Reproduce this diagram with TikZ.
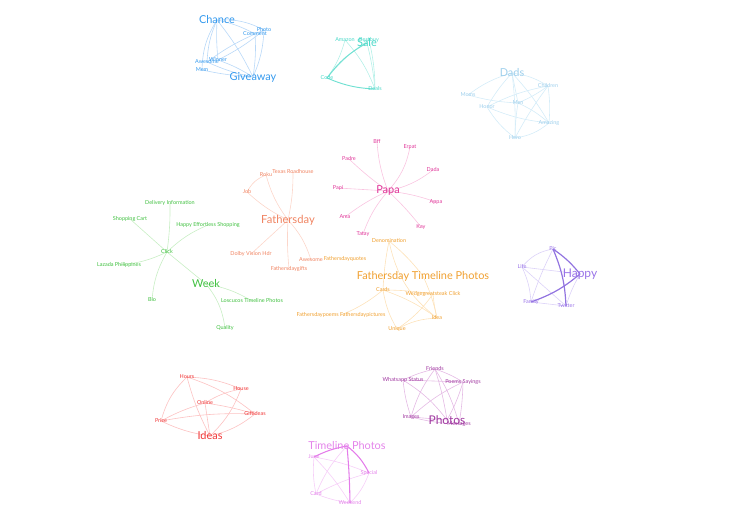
\documentclass[tikz,border=0pt]{standalone}
\usepackage{fontspec}
\setmainfont{Lato}
\usetikzlibrary{backgrounds}
\definecolor{chT}{HTML}{3399EE}\definecolor{chE}{HTML}{B8D8F8}
\definecolor{saT}{HTML}{48D8C8}\definecolor{saE}{HTML}{B4F0E8}\definecolor{saD}{HTML}{70E0D2}
\definecolor{daT}{HTML}{9ECFEC}\definecolor{daE}{HTML}{D4ECF8}
\definecolor{paT}{HTML}{E0389A}\definecolor{paE}{HTML}{F9C4E0}
\definecolor{faT}{HTML}{F08462}\definecolor{faE}{HTML}{FCD6CA}
\definecolor{weT}{HTML}{40C040}\definecolor{weE}{HTML}{C8EEC4}
\definecolor{ftT}{HTML}{F0A030}\definecolor{ftE}{HTML}{FDE2BA}
\definecolor{haT}{HTML}{9A74E8}\definecolor{haE}{HTML}{DCD2F8}\definecolor{haD}{HTML}{9274E0}
\definecolor{idT}{HTML}{F03838}\definecolor{idE}{HTML}{FCC2C2}
\definecolor{phT}{HTML}{A038A0}\definecolor{phE}{HTML}{E4BAE4}
\definecolor{tpT}{HTML}{E484EA}\definecolor{tpE}{HTML}{F6CEF8}\definecolor{tpD}{HTML}{E47CEA}
\tikzset{
  lab/.style={font=\fontsize{4.1}{5}\selectfont, inner sep=0pt},
  big/.style={font=\fontsize{8.2}{10}\selectfont, inner sep=0pt},
  ed/.style={line width=0.45pt},
  edk/.style={line width=0.9pt},
}
\begin{document}
\begin{tikzpicture}[x=0.75pt,y=-0.75pt]
\useasboundingbox (0,0) rectangle (739,530);
% ---------- Chance ----------
\begin{scope}[text=chT]
\node[big] (chance) at (217,20) {Chance};
\node[lab] (photo) at (264,30) {Photo};
\node[lab] (comment) at (255,34) {Comment};
\node[lab] (awesome) at (207,62) {Awesome};
\node[lab] (winner) at (218,60) {Winner};
\node[lab] (mem) at (202,70) {Mem};
\node[big] (giveaway) at (253,77) {Giveaway};
\end{scope}
% ---------- Sale ----------
\begin{scope}[text=saT]
\node[big] (sale) at (367,43) {Sale};
\node[lab] (amazon) at (345,40) {Amazon};
\node[lab] (bestbuy) at (369,40) {Bestbuy};
\node[lab] (code) at (327,78) {Code};
\node[lab] (deals) at (375,89) {Deals};
\end{scope}
% ---------- Dads ----------
\begin{scope}[text=daT]
\node[big] (dads) at (512,73) {Dads};
\node[lab] (children) at (548,86) {Children};
\node[lab] (moms) at (468,95) {Moms};
\node[lab] (men) at (518,103) {Men};
\node[lab] (honor) at (487,107) {Honor};
\node[lab] (amazing) at (549,123) {Amazing};
\node[lab] (hero) at (515,138) {Hero};
\end{scope}
% ---------- Papa ----------
\begin{scope}[text=paT]
\node[big] (papa) at (388,191) {Papa};
\node[lab] (bff) at (377,142) {Bff};
\node[lab] (erpat) at (410,147) {Erpat};
\node[lab] (padre) at (349,159) {Padre};
\node[lab] (dada) at (433,170) {Dada};
\node[lab] (papi) at (338,188) {Papi};
\node[lab] (appa) at (436,202) {Appa};
\node[lab] (ama) at (345,217) {Ama};
\node[lab] (kay) at (421,227) {Kay};
\node[lab] (tatay) at (363,234) {Tatay};
\end{scope}
% ---------- Fathersday ----------
\begin{scope}[text=faT]
\node[big,font=\fontsize{8.4}{10}\selectfont] (fday) at (288,220) {Fathersday};
\node[lab] (roku) at (266,175) {Roku};
\node[lab] (texas) at (293,172) {Texas Roadhouse};
\node[lab] (job) at (247,192) {Job};
\node[lab] (dolby) at (251,254) {Dolby Vision Hdr};
\node[lab] (awesome2) at (311,260) {Awesome};
\node[lab] (fgifts) at (289,269) {Fathersdaygifts};
\end{scope}
% ---------- Week ----------
\begin{scope}[text=weT]
\node[big] (week) at (206,284) {Week};
\node[lab] (delivery) at (170,203) {Delivery Information};
\node[lab] (cart) at (130,219) {Shopping Cart};
\node[lab] (happyeff) at (208,225) {Happy Effortless Shopping};
\node[lab] (click) at (167,252) {Click};
\node[lab] (lazada) at (119,265) {Lazada Philippines};
\node[lab] (bio) at (152,300) {Bio};
\node[lab] (loscucos) at (252,301) {Loscucos Timeline Photos};
\node[lab] (quality) at (225,328) {Quality};
\end{scope}
% ---------- Fathersday Timeline Photos ----------
\begin{scope}[text=ftT]
\node[big] (ftp) at (423,276) {Fathersday Timeline Photos};
\node[lab] (denom) at (389,241) {Denomination};
\node[lab] (fquotes) at (345,259) {Fathersdayquotes};
\node[lab] (cards) at (383,290) {Cards};
\node[lab] (wedge) at (433,294) {Wedgegreatsteak Click};
\node[lab] (fpoems) at (341,315) {Fathersdaypoems Fathersdaypictures};
\node[lab] (idea) at (437,318) {Idea};
\node[lab] (unique) at (397,329) {Unique};
\end{scope}
% ---------- Happy ----------
\begin{scope}[text=haT]
\node[big,font=\fontsize{9}{11}\selectfont] (happy) at (580,274) {Happy};
\node[lab] (pic) at (553,249) {Pic};
\node[lab] (life) at (522,267) {Life};
\node[lab] (family) at (531,302) {Family};
\node[lab] (twitter) at (566,306) {Twitter};
\end{scope}
% ---------- Ideas ----------
\begin{scope}[text=idT]
\node[big] (ideas) at (210,436) {Ideas};
\node[lab] (hours) at (187,377) {Hours};
\node[lab] (house) at (241,389) {House};
\node[lab] (online) at (205,403) {Online};
\node[lab] (gifti) at (255,414) {Giftideas};
\node[lab] (price) at (161,421) {Price};
\end{scope}
% ---------- Photos ----------
\begin{scope}[text=phT]
\node[big,font=\fontsize{9}{11}\selectfont] (photos) at (447,420) {Photos};
\node[lab] (friends) at (435,369) {Friends};
\node[lab] (whats) at (403,380) {Whatsapp Status};
\node[lab] (poems) at (463,382) {Poems Sayings};
\node[lab] (images) at (411,417) {Images};
\node[lab] (messages) at (459,424) {Messages};
\end{scope}
% ---------- Timeline Photos ----------
\begin{scope}[text=tpT]
\node[big] (tp) at (347,446) {Timeline Photos};
\node[lab] (june) at (314,457) {June};
\node[lab] (special) at (369,473) {Special};
\node[lab] (card) at (316,494) {Card};
\node[lab] (weekend) at (350,503) {Weekend};
\end{scope}
% ================= edges =================
\begin{scope}[on background layer]
\begin{scope}[ed,chE]
\draw (chance.center) to[bend left=15] (photo.center);
\draw (chance.center) to[bend left=8] (comment.center);
\draw (chance.center) to[bend right=10] (awesome.center);
\draw (chance.center) to[bend right=4] (winner.center);
\draw (chance.center) to[bend right=15] (mem.center);
\draw (chance.center) to[bend left=6] (giveaway.center);
\draw (photo.center) to[bend left=10] (giveaway.center);
\draw (comment.center) to[bend left=6] (giveaway.center);
\draw (photo.center) to[bend left=6] (winner.center);
\draw (comment.center) to[bend right=6] (awesome.center);
\draw (awesome.center) to[bend right=6] (giveaway.center);
\draw (winner.center) to[bend left=6] (giveaway.center);
\draw (mem.center) to[bend right=4] (giveaway.center);
\draw (photo.center) to (comment.center);
\end{scope}
\begin{scope}[ed,saE]
\draw (amazon.center) to[bend left=10] (code.center);
\draw (amazon.center) to[bend left=10] (deals.center);
\draw (bestbuy.center) to[bend right=8] (code.center);
\draw (bestbuy.center) to[bend left=6] (deals.center);
\draw (sale.center) to[bend left=4] (deals.center);
\end{scope}
\draw[line width=0.7pt,saD] (sale.center) to[bend right=12] (code.center);
\draw[line width=0.7pt,saD] (code.center) to[bend right=10] (deals.center);
\begin{scope}[ed,daE]
\draw (dads.center) to[bend right=10] (moms.center);
\draw (dads.center) to[bend left=12] (children.center);
\draw (dads.center) to (men.center);
\draw (dads.center) to[bend right=6] (honor.center);
\draw (dads.center) to[bend left=6] (amazing.center);
\draw (dads.center) to[bend left=4] (hero.center);
\draw (moms.center) to[bend right=6] (men.center);
\draw (children.center) to[bend right=8] (honor.center);
\draw (children.center) to[bend left=6] (men.center);
\draw (children.center) to[bend right=4] (hero.center);
\draw (children.center) to[bend left=6] (amazing.center);
\draw (honor.center) to[bend right=8] (amazing.center);
\draw (honor.center) to[bend right=10] (hero.center);
\draw (men.center) to[bend left=8] (amazing.center);
\draw (hero.center) to[bend right=15] (amazing.center);
\draw (men.center) to[bend right=4] (hero.center);
\end{scope}
\begin{scope}[ed,paE]
\draw (papa.center) to[bend left=8] (bff.center);
\draw (papa.center) to[bend right=15] (erpat.center);
\draw (papa.center) to[bend left=4] (padre.center);
\draw (papa.center) to[bend right=12] (dada.center);
\draw (papa.center) to (papi.center);
\draw (papa.center) to[bend left=6] (appa.center);
\draw (papa.center) to[bend right=6] (ama.center);
\draw (papa.center) to[bend left=4] (kay.center);
\draw (papa.center) to[bend right=10] (tatay.center);
\end{scope}
\begin{scope}[ed,faE]
\draw (fday.center) to[bend left=10] (roku.center);
\draw (fday.center) to[bend right=6] (texas.center);
\draw (job.center) to[bend left=20] (roku.center);
\draw (job.center) to[bend right=8] (fday.center);
\draw (fday.center) to (dolby.center);
\draw (fday.center) to[bend right=4] (fgifts.center);
\draw (fday.center) to[bend left=12] (awesome2.center);
\end{scope}
\begin{scope}[ed,weE]
\draw (click.center) to[bend right=4] (delivery.center);
\draw (click.center) to (cart.center);
\draw (click.center) to[bend left=10] (happyeff.center);
\draw (click.center) to[bend left=10] (lazada.center);
\draw (click.center) to[bend right=12] (bio.center);
\draw (click.center) to (week.center);
\draw (week.center) to[bend left=10] (loscucos.center);
\draw (week.center) to[bend left=15] (quality.center);
\end{scope}
\begin{scope}[ed,ftE]
\draw (denom.center) to[bend right=4] (cards.center);
\draw (denom.center) to[bend left=6] (ftp.center);
\draw (denom.center) to[bend right=20] (idea.center);
\draw (cards.center) to[bend left=4] (wedge.center);
\draw (cards.center) to[bend left=8] (idea.center);
\draw (cards.center) to[bend right=10] (unique.center);
\draw (cards.center) to[bend left=8] (fpoems.center);
\draw (wedge.center) to[bend left=10] (unique.center);
\draw (wedge.center) to[bend right=4] (idea.center);
\draw (unique.center) to[bend left=12] (idea.center);
\draw (ftp.center) to[bend left=6] (idea.center);
\end{scope}
\begin{scope}[ed,haE]
\draw (life.center) to[bend left=20] (pic.center);
\draw (life.center) to[bend left=10] (family.center);
\draw (life.center) to (twitter.center);
\draw (pic.center) to[bend right=4] (family.center);
\draw (family.center) to (twitter.center);
\draw (life.center) to (happy.center);
\draw (happy.center) to[bend right=6] (twitter.center);
\end{scope}
\begin{scope}[edk,haD]
\draw (pic.center) to[bend left=8] (happy.center);
\draw (pic.center) to[bend left=10] (twitter.center);
\draw (happy.center) to[bend left=10] (family.center);
\end{scope}
\begin{scope}[ed,idE]
\draw (hours.center) to[bend left=10] (house.center);
\draw (hours.center) to[bend right=15] (price.center);
\draw (hours.center) to[bend right=6] (ideas.center);
\draw (hours.center) to[bend left=10] (gifti.center);
\draw (house.center) to[bend right=10] (online.center);
\draw (house.center) to[bend left=12] (ideas.center);
\draw (online.center) to[bend right=6] (price.center);
\draw (online.center) to[bend left=4] (gifti.center);
\draw (online.center) to (ideas.center);
\draw (price.center) to[bend right=8] (ideas.center);
\draw (gifti.center) to[bend left=12] (ideas.center);
\draw (price.center) to[bend left=6] (gifti.center);
\end{scope}
\begin{scope}[ed,phE]
\draw (friends.center) to[bend right=6] (whats.center);
\draw (friends.center) to[bend left=6] (poems.center);
\draw (friends.center) to[bend left=4] (photos.center);
\draw (friends.center) to[bend left=8] (messages.center);
\draw (friends.center) to[bend right=10] (images.center);
\draw (whats.center) to (poems.center);
\draw (whats.center) to[bend right=6] (images.center);
\draw (whats.center) to[bend left=10] (photos.center);
\draw (poems.center) to[bend right=8] (images.center);
\draw (poems.center) to[bend left=6] (photos.center);
\draw (poems.center) to[bend left=4] (messages.center);
\draw (images.center) to (photos.center);
\draw (images.center) to[bend right=6] (messages.center);
\end{scope}
\begin{scope}[ed,tpE]
\draw (tp.center) to[bend right=10] (card.center);
\draw (june.center) to[bend left=6] (special.center);
\draw (june.center) to[bend right=8] (card.center);
\draw (june.center) to[bend left=6] (weekend.center);
\draw (special.center) to[bend right=6] (card.center);
\draw (special.center) to[bend left=12] (weekend.center);
\draw (card.center) to[bend right=6] (weekend.center);
\end{scope}
\begin{scope}[line width=0.8pt,tpD]
\draw (tp.center) to[bend right=8] (june.center);
\draw (tp.center) to[bend left=2] (weekend.center);
\draw (tp.center) to[bend left=12] (special.center);
\end{scope}
\end{scope}
\end{tikzpicture}
\end{document}
